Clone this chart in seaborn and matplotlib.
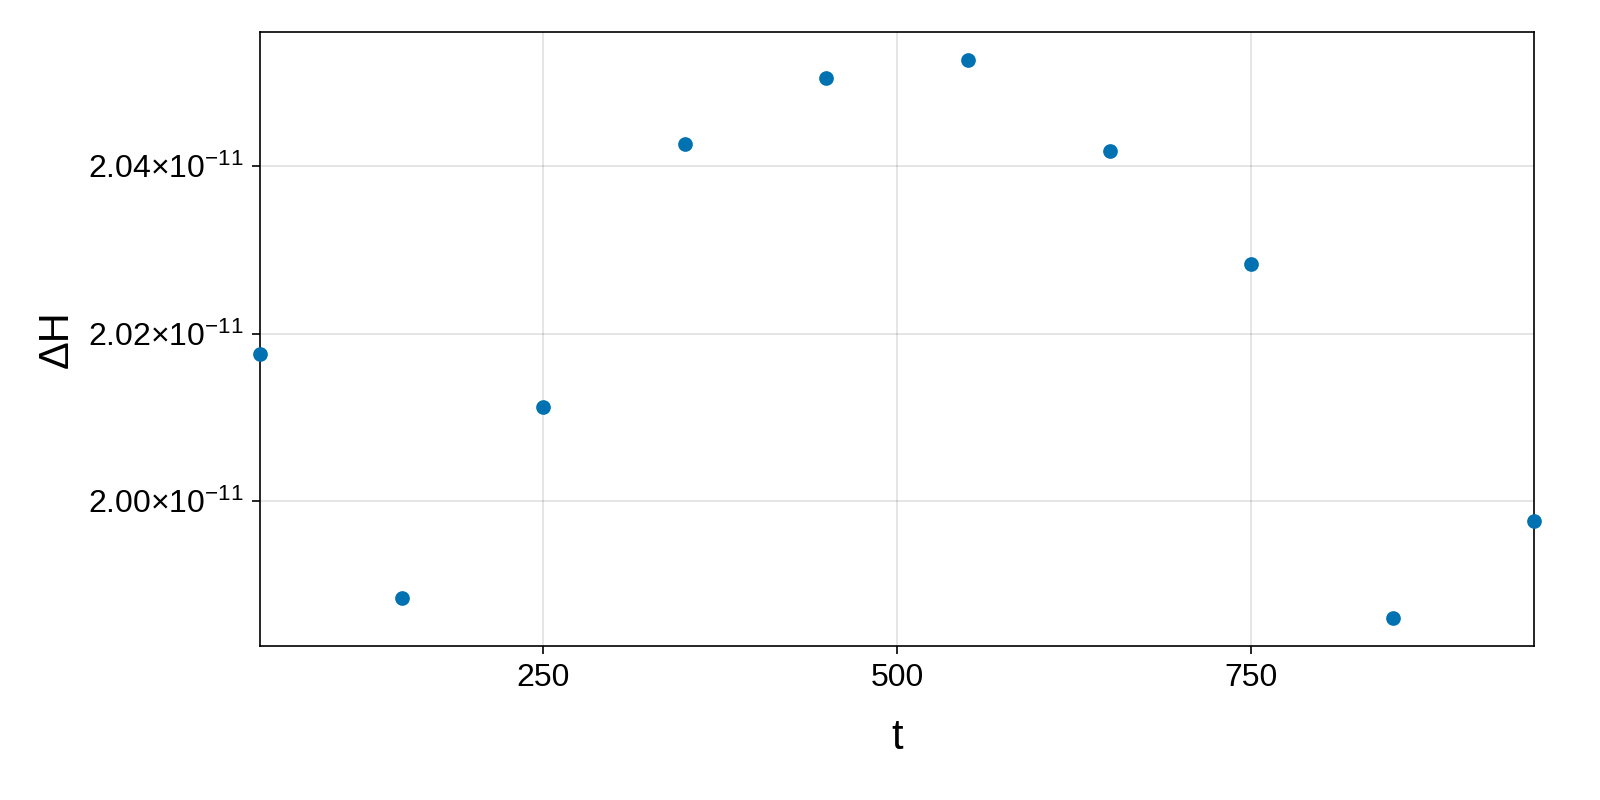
import matplotlib
matplotlib.use('Agg')
import matplotlib.pyplot as plt
import matplotlib.ticker as ticker
import numpy as np
import pandas as pd
import seaborn as sns

# data
t = [50, 150, 250, 350, 450, 550, 650, 750, 850, 950]
dH = [2.0175e-11, 1.98845e-11, 2.01119e-11, 2.04262e-11, 2.05048e-11,
      2.05262e-11, 2.04179e-11, 2.02833e-11, 1.98607e-11, 1.99762e-11]
x_ticks = [250, 500, 750]
y_ticks = [2.00e-11, 2.02e-11, 2.04e-11]

sns.set_theme(style='white', rc={
    'xtick.bottom': True, 'ytick.left': True,
    'xtick.major.size': 3, 'ytick.major.size': 3,
    'text.color': 'black', 'axes.labelcolor': 'black',
    'xtick.color': 'black', 'ytick.color': 'black',
})
plt.rcParams['font.family'] = ['Liberation Sans', 'DejaVu Sans']
plt.rcParams['mathtext.fontset'] = 'custom'
plt.rcParams['mathtext.rm'] = 'Liberation Sans'
plt.rcParams['mathtext.it'] = 'Liberation Sans'

df = pd.DataFrame({'t': t, 'dH': dH})

fig = plt.figure(figsize=(8, 4), dpi=200)
ax = fig.add_axes([0.1625, 0.1925, 0.7965, 0.7675])
sns.scatterplot(data=df, x='t', y='dH', ax=ax, color='#0072B2', s=28,
                linewidth=0, zorder=3, clip_on=False)

# limits like Makie: tight on x, 5% margin on y
ax.set_xlim(min(t), max(t))
span = max(dH) - min(dH)
ax.set_ylim(min(dH) - 0.05 * span, max(dH) + 0.05 * span)

ax.set_xticks(x_ticks)
ax.set_yticks(y_ticks)
ax.yaxis.set_major_formatter(ticker.FuncFormatter(
    lambda v, p: r'$%.2f{\times}10^{-11}$' % (v / 1e-11)))

ax.grid(True, color='black', alpha=0.12, linewidth=0.6)
for s in ax.spines.values():
    s.set_color('black')
    s.set_linewidth(0.6)
ax.tick_params(axis='both', direction='out', length=3, width=0.6,
               colors='black', labelsize=11.5, pad=3)

ax.set_xlabel('t', fontsize=15, labelpad=9)
ax.set_ylabel('ΔH', fontsize=15, labelpad=4)

fig.savefig('out.png', dpi=200)
